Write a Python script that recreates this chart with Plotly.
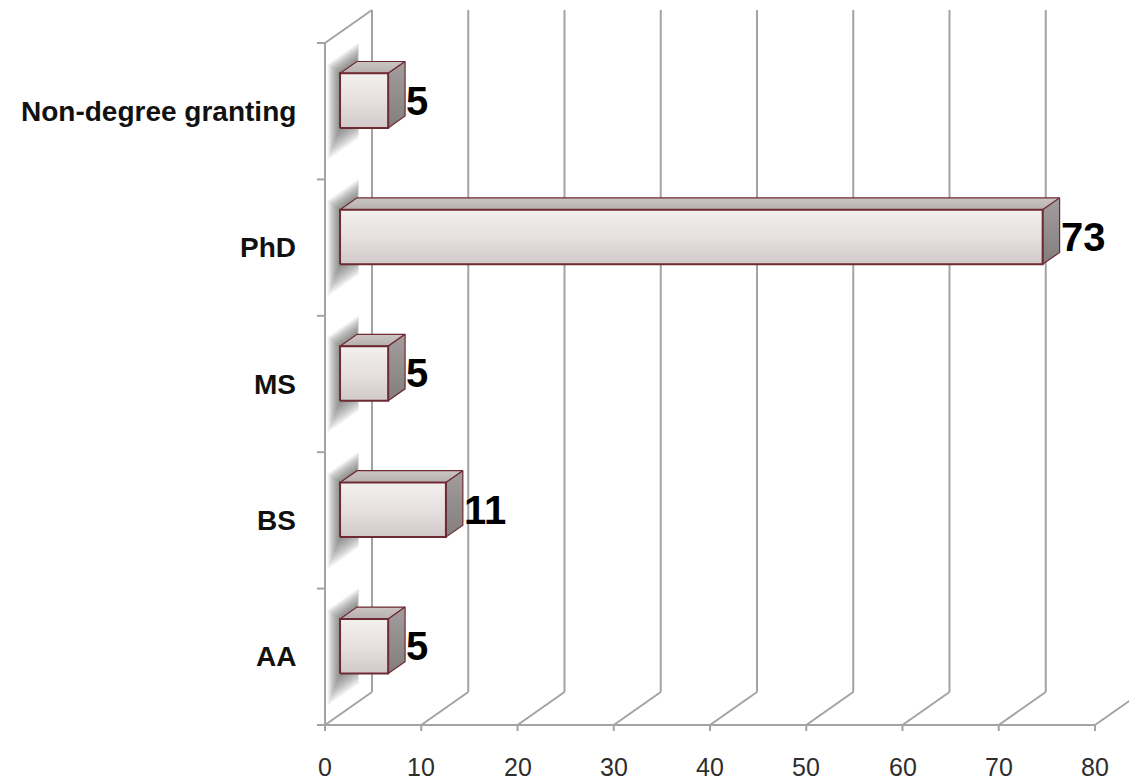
import plotly.graph_objects as go

# ---- data ----
categories = ["AA", "BS", "MS", "PhD", "Non-degree granting"]
counts = [5, 11, 5, 73, 5]
x_ticks = [0, 10, 20, 30, 40, 50, 60, 70, 80]

# ---- 3-D projection settings (axis units) ----
W, H = 1129, 781
PX_X = 9.625            # pixels per value unit
PX_Y = 136.4            # pixels per category band
X0_PX, FLOOR_PX = 325, 725
DX = 47 / PX_X          # full wall depth, horizontal component
DY = 33 / PX_Y          # full wall depth, vertical component
D_FRONT, D_BACK = 0.32, 0.68   # bar depth span inside the box
HALF = 0.2              # half bar thickness (category units)
FLOOR = -0.5
TOP = len(categories) - 0.5

GRID = "#a3a3a3"
EDGE = "#6e2a32"


def proj(v, c, d):
    """Value v, category position c, depth fraction d -> axis coordinates."""
    return v + d * DX, c + d * DY


fig = go.Figure()

# ---- walls, floor and grid ----
def line(p, q, width=2, color=GRID):
    fig.add_shape(type="line", x0=p[0], y0=p[1], x1=q[0], y1=q[1],
                  xref="x", yref="y", layer="below",
                  line=dict(color=color, width=width))

for t in x_ticks:
    # back wall gridline
    line(proj(t, FLOOR, 1), proj(t, TOP, 1))
    # floor diagonal
    line(proj(t, FLOOR, 0), proj(t, FLOOR, 1))
    # tick mark under the front edge
    line((t, FLOOR), (t, FLOOR - 6 / PX_Y))

# front floor edge
line((x_ticks[0], FLOOR), (x_ticks[-1], FLOOR))
# left wall front edge and its top slant
line((0, FLOOR), (0, TOP))
line(proj(0, TOP, 0), proj(0, TOP, 1))
# category boundary ticks on the left wall
for k in range(len(categories) + 1):
    yb = FLOOR + k
    line((-8 / PX_X, yb), (0, yb))


def poly(pts, **kw):
    xs = [p[0] for p in pts] + [pts[0][0]]
    ys = [p[1] for p in pts] + [pts[0][1]]
    fig.add_trace(go.Scatter(x=xs, y=ys, mode="lines", fill="toself",
                             hoverinfo="skip", showlegend=False, **kw))


# ---- soft shadows on the left wall ----
for c, v in enumerate(counts):
    steps = 12
    for k in range(steps, -1, -1):
        f = k / steps
        d_lo = max(D_FRONT - 0.26 * f, 0.05)
        d_hi = D_BACK + 0.04 * f
        z_lo = -HALF - 0.17 * f
        z_hi = HALF + 0.13 * f
        pts = [proj(0, c + z_lo, d_lo), proj(0, c + z_lo, d_hi),
               proj(0, c + z_hi, d_hi), proj(0, c + z_hi, d_lo)]
        poly(pts, line=dict(width=0), fillcolor="rgba(80,80,80,0.075)")

# ---- bars (front, top and side faces) ----
for c, v in enumerate(counts):
    # top face
    top = [proj(0, c + HALF, D_FRONT), proj(v, c + HALF, D_FRONT),
           proj(v, c + HALF, D_BACK), proj(0, c + HALF, D_BACK)]
    poly(top, line=dict(color=EDGE, width=1.2),
         fillgradient=dict(type="vertical",
                           colorscale=[[0, "#b7afaf"], [1, "#cbc5c5"]]))
    # side face
    side = [proj(v, c - HALF, D_FRONT), proj(v, c - HALF, D_BACK),
            proj(v, c + HALF, D_BACK), proj(v, c + HALF, D_FRONT)]
    poly(side, line=dict(color=EDGE, width=1.2),
         fillgradient=dict(type="vertical",
                           colorscale=[[0, "#837e7e"], [1, "#a39d9d"]]))
    # front face
    front = [proj(0, c - HALF, D_FRONT), proj(v, c - HALF, D_FRONT),
             proj(v, c + HALF, D_FRONT), proj(0, c + HALF, D_FRONT)]
    poly(front, line=dict(color=EDGE, width=2),
         fillgradient=dict(type="vertical",
                           colorscale=[[0, "#d2c9c9"], [0.5, "#e6e0e0"],
                                       [1, "#f4f0f0"]]))

# ---- value labels ----
for c, v in enumerate(counts):
    x_lab, _ = proj(v, c, D_BACK)
    _, y_lab = proj(v, c, D_FRONT)
    fig.add_annotation(x=x_lab, y=y_lab, text=str(v), showarrow=False,
                       xanchor="left", yanchor="middle", xshift=-1,
                       font=dict(family="Liberation Sans", size=40,
                                 color="#000000", weight="bold"))

# ---- category labels ----
for c, name in enumerate(categories):
    fig.add_annotation(x=(298 - X0_PX) / PX_X, y=c, text=name,
                       showarrow=False, xanchor="right", yanchor="middle",
                       font=dict(family="Liberation Sans", size=28,
                                 color="#111111", weight="bold"))

# ---- value axis tick labels ----
for t in x_ticks:
    fig.add_annotation(x=t, y=FLOOR - 42 / PX_Y, text=str(t), showarrow=False,
                       xanchor="center", yanchor="middle",
                       font=dict(family="Liberation Sans", size=25,
                                 color="#2e2e2e"))

fig.update_layout(
    width=W, height=H,
    margin=dict(l=0, r=0, t=0, b=0),
    paper_bgcolor="white", plot_bgcolor="white",
    showlegend=False,
    xaxis=dict(range=[-X0_PX / PX_X, (W - X0_PX) / PX_X], visible=False,
               fixedrange=True),
    yaxis=dict(range=[FLOOR - (H - FLOOR_PX) / PX_Y, FLOOR + FLOOR_PX / PX_Y],
               visible=False, fixedrange=True),
)

fig.write_html("out.html")
